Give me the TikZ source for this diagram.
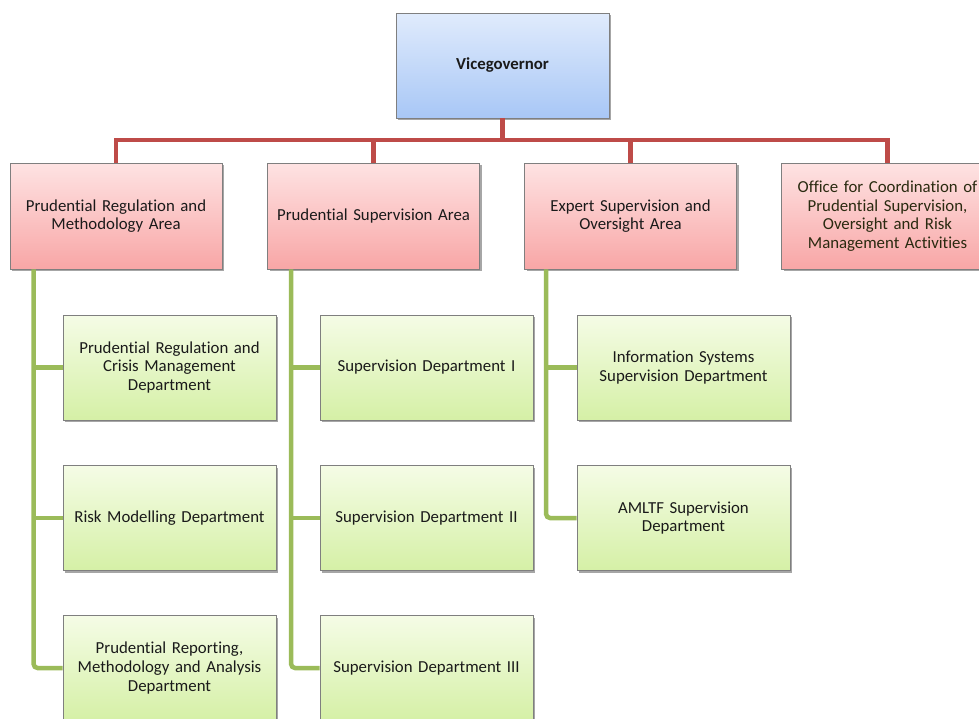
\documentclass[tikz,border=0pt]{standalone}
\usepackage{fontspec}
\setmainfont[Ligatures={NoCommon}]{Carlito}
\usetikzlibrary{shadows}
\definecolor{bordergray}{HTML}{7F7F7F}
\definecolor{redline}{HTML}{BE4B48}
\definecolor{greenline}{HTML}{9BBB59}
\definecolor{bluetop}{HTML}{E0EBFC}
\definecolor{bluebot}{HTML}{A8C7F6}
\definecolor{redtop}{HTML}{FEE3E3}
\definecolor{redbot}{HTML}{F8A6A6}
\definecolor{greentop}{HTML}{F5FCE6}
\definecolor{greenbot}{HTML}{D5F0A6}
\definecolor{txt}{HTML}{1A1A1A}
\definecolor{officetxt}{HTML}{2A2A10}
\tikzset{
  box/.style={draw=bordergray, line width=0.8pt, align=center, text=txt,
    font=\fontsize{16.8}{18.6}\selectfont, inner sep=2pt,
    drop shadow={shadow xshift=2pt, shadow yshift=-2pt, opacity=0.35, fill=black}},
  topbox/.style={box, minimum width=213pt, minimum height=105pt, top color=bluetop, bottom color=bluebot},
  areabox/.style={box, minimum width=212pt, minimum height=106pt, top color=redtop, bottom color=redbot, text width=206pt},
  deptbox/.style={box, minimum width=213pt, minimum height=105pt, top color=greentop, bottom color=greenbot, text width=205pt},
  redconn/.style={draw=redline, line width=4.5pt},
  greenconn/.style={draw=greenline, line width=4.5pt, rounded corners=4pt}
}
\begin{document}
\begin{tikzpicture}[x=1pt,y=1pt]
\useasboundingbox (0,0) rectangle (979,-718);
% top
\node[topbox] (vg) at (502.5,-65.5) {\textbf{Vicegovernor}};
% areas
\node[areabox] (a1) at (116,-216) {Prudential Regulation and\\Methodology Area};
\node[areabox] (a2) at (373.5,-216) {Prudential Supervision Area};
\node[areabox] (a3) at (630.5,-216) {Expert Supervision and\\Oversight Area};
\node[areabox, text=officetxt] (a4) at (887.5,-216) {Office for Coordination of\\Prudential Supervision,\\Oversight and Risk\\Management Activities};
% departments
\node[deptbox] (d11) at (169.5,-367.5) {Prudential Regulation and\\Crisis Management\\Department};
\node[deptbox] (d12) at (169.5,-518) {Risk Modelling Department};
\node[deptbox] (d13) at (169.5,-668) {Prudential Reporting,\\Methodology and Analysis\\Department};
\node[deptbox] (d21) at (426.5,-367.5) {Supervision Department I};
\node[deptbox] (d22) at (426.5,-518) {Supervision Department II};
\node[deptbox] (d23) at (426.5,-668) {Supervision Department III};
\node[deptbox] (d31) at (683.5,-367.5) {Information Systems\\Supervision Department};
\node[deptbox] (d32) at (683.5,-518) {AMLTF Supervision\\Department};
% red connectors
\coordinate (bar) at (0,-140);
\draw[redconn] (vg.south) -- (vg.south |- bar);
\draw[redconn, line join=miter] (a1.north) -- (a1.north |- bar) -- (a4.north |- bar) -- (a4.north);
\draw[redconn] (a2.north |- bar) -- (a2.north);
\draw[redconn] (a3.north |- bar) -- (a3.north);
% green connectors
\coordinate (s1) at ([xshift=24pt]a1.south west);
\coordinate (s2) at ([xshift=24pt]a2.south west);
\coordinate (s3) at ([xshift=22pt]a3.south west);
\draw[greenconn] (s1) |- (d13.west);
\draw[greenconn] (s1 |- d11.west) -- (d11.west);
\draw[greenconn] (s1 |- d12.west) -- (d12.west);
\draw[greenconn] (s2) |- (d23.west);
\draw[greenconn] (s2 |- d21.west) -- (d21.west);
\draw[greenconn] (s2 |- d22.west) -- (d22.west);
\draw[greenconn] (s3) |- (d32.west);
\draw[greenconn] (s3 |- d31.west) -- (d31.west);
\end{tikzpicture}
\end{document}
